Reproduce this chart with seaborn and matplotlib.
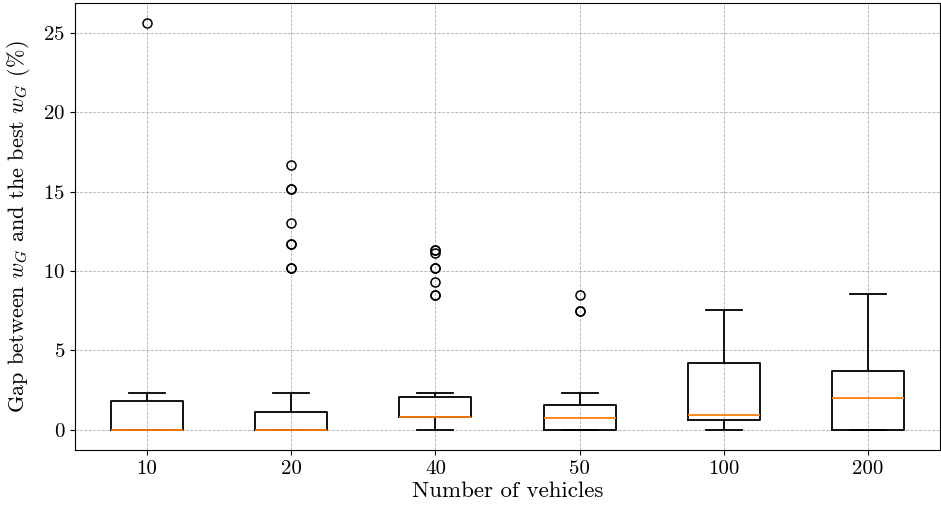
import numpy as np
import pandas as pd
import matplotlib
matplotlib.use("Agg")
import matplotlib.pyplot as plt
import seaborn as sns

# Data (gap in %), per number of vehicles
categories = ["10", "20", "40", "50", "100", "200"]
gap_10 = [0.0] * 19 + [0.2, 0.4, 0.6, 0.8, 1.0, 1.2, 1.4, 1.6, 1.82,
                       1.9, 2.0, 2.05, 2.1, 2.15, 2.2, 2.25, 2.32, 25.6]
gap_20 = [0.0] * 19 + [0.1, 0.2, 0.3, 0.4, 0.5, 0.7, 0.9, 1.0, 1.13, 2.32,
                       10.2, 10.2, 11.7, 11.7, 13.0, 15.15, 15.15, 16.65]
gap_40 = [0.0, 0.3, 0.5, 0.6, 0.7, 0.75, 0.78, 0.8, 0.8, 0.8,
          0.8, 0.8, 0.81, 0.81, 0.81, 0.82, 0.82, 0.82, 0.82,
          0.9, 1.0, 1.2, 1.4, 1.6, 1.8, 1.9, 2.0, 2.07, 2.32,
          8.5, 8.5, 9.3, 10.2, 10.2, 11.15, 11.3, 11.3]
gap_50 = [0.0] * 5 + [0.2, 0.4, 0.6, 0.75, 0.9, 1.1, 1.3, 1.53, 2.32,
                      7.5, 7.5, 8.5]
gap_100 = [0.0, 0.2, 0.4, 0.59, 0.7, 0.8, 0.9, 1.5, 3.0, 4.23, 5.5, 6.5, 7.52]
gap_200 = [0.0, 0.0, 0.0, 0.0, 0.8, 1.5, 2.03, 2.6, 3.2, 3.73, 5.0, 7.0, 8.54]

groups = [gap_10, gap_20, gap_40, gap_50, gap_100, gap_200]
df = pd.DataFrame({
    "vehicles": np.concatenate([[c] * len(g) for c, g in zip(categories, groups)]),
    "gap": np.concatenate(groups),
})

plt.rcParams["font.family"] = "serif"
plt.rcParams["font.serif"] = ["cmr10", "DejaVu Serif"]
plt.rcParams["mathtext.fontset"] = "cm"
plt.rcParams["axes.formatter.use_mathtext"] = True
plt.rcParams["axes.unicode_minus"] = False

fig = plt.figure(figsize=(9.41, 5.12), dpi=100)
ax = fig.add_axes([0.0797, 0.121, 0.9193, 0.873])

lw = 1.3
sns.boxplot(
    data=df, x="vehicles", y="gap", order=categories, ax=ax,
    width=0.5, fill=False, color="black", linewidth=lw,
    medianprops={"color": "#ff7f0e", "linewidth": lw},
    flierprops={"marker": "o", "markerfacecolor": "none",
                "markeredgecolor": "black", "markersize": 6.5,
                "markeredgewidth": 1.1},
)

ax.grid(True, linestyle="--", linewidth=0.6, color="#b0b0b0")
ax.set_axisbelow(True)
ax.set_xlim(-0.5, 5.5)
ax.set_xlabel("Number of vehicles", fontsize=16.5, labelpad=3)
ax.set_ylabel(r"Gap between $w_G$ and the best $w_G$ (%)", fontsize=16, labelpad=8)
ax.tick_params(labelsize=15)
for s in ax.spines.values():
    s.set_color("black")

fig.savefig("out.png", dpi=100)
